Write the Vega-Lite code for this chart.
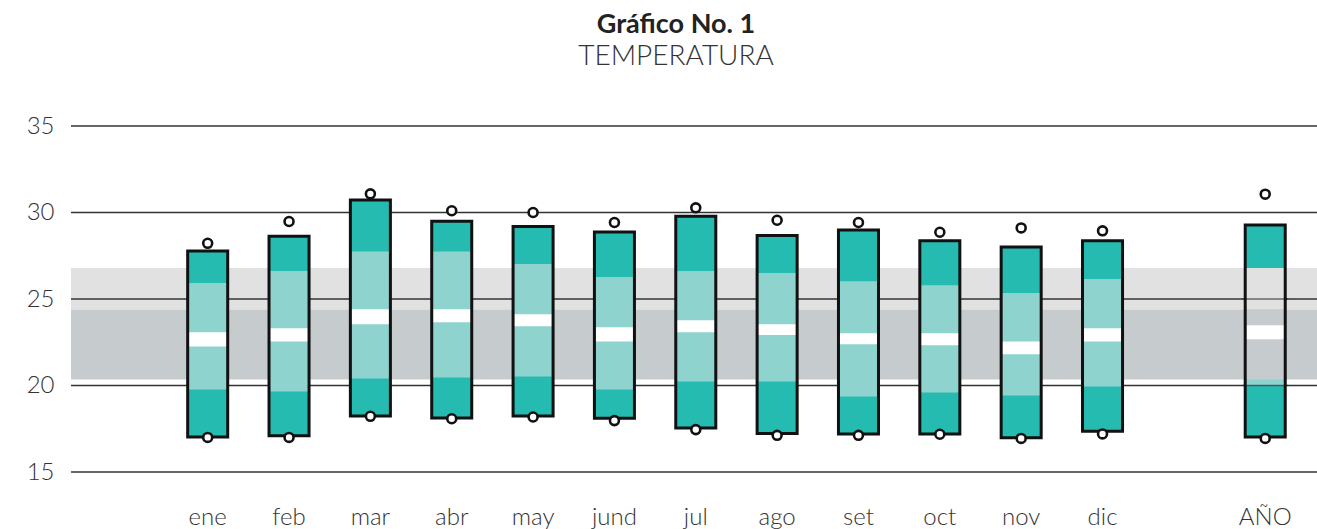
{
  "$schema": "https://vega.github.io/schema/vega-lite/v6.json",
  "width": 1246,
  "height": 346,
  "autosize": "none",
  "padding": {"left": 71, "top": 126, "right": 0, "bottom": 57},
  "background": "white",
  "config": {
    "view": {"stroke": null},
    "font": "Lato",
    "axisY": {"grid": false, "domain": false, "ticks": false, "tickSize": 0, "tickCount": 5, "labelPadding": 17, "labelFontSize": 24, "labelColor": "#333333", "labelFont": "Lato", "labelFontWeight": 300},
    "axisX": {"grid": false, "domain": false, "ticks": false, "tickSize": 0, "labelPadding": 33, "labelFontSize": 24, "labelColor": "#333333", "labelFont": "Lato", "labelFontWeight": 300, "labelAngle": 0}
  },
  "title": {
    "text": "Gráfico No. 1",
    "subtitle": "TEMPERATURA",
    "anchor": "middle",
    "dx": -18,
    "offset": 42,
    "font": "Lato",
    "fontSize": 27,
    "fontWeight": "bold",
    "color": "#222222",
    "subtitleFont": "Lato",
    "subtitleFontSize": 28,
    "subtitleFontWeight": 300,
    "subtitleColor": "#333333",
    "subtitlePadding": 4
  },
  "datasets": {
    "cajas": [
      {"mes": "ene", "min": 17.02, "p25": 19.77, "mlo": 22.26, "mhi": 23.08, "p75": 25.92, "max": 27.78, "amin": 17.0, "amax": 28.22},
      {"mes": "feb", "min": 17.10, "p25": 19.65, "mlo": 22.55, "mhi": 23.31, "p75": 26.62, "max": 28.63, "amin": 17.0, "amax": 29.48},
      {"mes": "mar", "min": 18.24, "p25": 20.41, "mlo": 23.54, "mhi": 24.41, "p75": 27.74, "max": 30.72, "amin": 18.22, "amax": 31.08},
      {"mes": "abr", "min": 18.12, "p25": 20.46, "mlo": 23.66, "mhi": 24.41, "p75": 27.74, "max": 29.50, "amin": 18.08, "amax": 30.10},
      {"mes": "may", "min": 18.24, "p25": 20.52, "mlo": 23.42, "mhi": 24.12, "p75": 27.02, "max": 29.19, "amin": 18.18, "amax": 30.0},
      {"mes": "jund", "min": 18.10, "p25": 19.77, "mlo": 22.55, "mhi": 23.37, "p75": 26.27, "max": 28.88, "amin": 17.97, "amax": 29.42},
      {"mes": "jul", "min": 17.54, "p25": 20.23, "mlo": 23.08, "mhi": 23.77, "p75": 26.62, "max": 29.79, "amin": 17.45, "amax": 30.27},
      {"mes": "ago", "min": 17.23, "p25": 20.23, "mlo": 22.92, "mhi": 23.54, "p75": 26.50, "max": 28.67, "amin": 17.12, "amax": 29.55},
      {"mes": "set", "min": 17.20, "p25": 19.36, "mlo": 22.38, "mhi": 23.02, "p75": 26.03, "max": 28.99, "amin": 17.12, "amax": 29.42},
      {"mes": "oct", "min": 17.20, "p25": 19.59, "mlo": 22.32, "mhi": 23.02, "p75": 25.80, "max": 28.36, "amin": 17.18, "amax": 28.86},
      {"mes": "nov", "min": 16.98, "p25": 19.42, "mlo": 21.80, "mhi": 22.55, "p75": 25.34, "max": 28.01, "amin": 16.94, "amax": 29.11},
      {"mes": "dic", "min": 17.35, "p25": 19.94, "mlo": 22.55, "mhi": 23.31, "p75": 26.15, "max": 28.36, "amin": 17.20, "amax": 28.94},
      {"mes": "AÑO", "min": 17.02, "p25": 20.0, "mlo": 22.67, "mhi": 23.48, "p75": 26.79, "max": 29.28, "amin": 16.94, "amax": 31.06}
    ],
    "franjas": [
      {"zona": "alta", "lo": 24.4, "hi": 26.79},
      {"zona": "media", "lo": 20.35, "hi": 24.4}
    ],
    "grilla": [
      {"g": 15}, {"g": 20}, {"g": 25}, {"g": 30}, {"g": 35}
    ]
  },
  "layer": [
    {
      "data": {"name": "franjas"},
      "mark": {"type": "rect"},
      "encoding": {
        "y": {"field": "lo", "type": "quantitative", "title": null, "scale": {"domain": [15, 35], "nice": false, "zero": false}},
        "y2": {"field": "hi"},
        "color": {"field": "zona", "type": "nominal", "legend": null, "scale": {"domain": ["alta", "media"], "range": ["#e1e1e1", "#c6cbcd"]}}
      }
    },
    {
      "data": {"name": "grilla"},
      "mark": {"type": "rule", "color": "#333333", "strokeWidth": 1.3},
      "encoding": {
        "y": {"field": "g", "type": "quantitative", "title": null}
      }
    },
    {
      "data": {"name": "cajas"},
      "mark": {"type": "bar", "color": "#26bbb0"},
      "encoding": {
        "x": {"field": "mes", "type": "nominal", "title": null, "scale": {"domain": ["ene", "feb", "mar", "abr", "may", "jund", "jul", "ago", "set", "oct", "nov", "dic", " ", "AÑO"], "paddingInner": 0.508, "paddingOuter": 0.9124, "align": 0.786, "round": false}},
        "y": {"field": "min", "type": "quantitative", "title": null},
        "y2": {"field": "max"}
      }
    },
    {
      "data": {"name": "cajas"},
      "mark": {"type": "bar", "color": "#8fd3cf"},
      "encoding": {
        "x": {"field": "mes", "type": "nominal", "title": null},
        "y": {"field": "p25", "type": "quantitative", "title": null},
        "y2": {"field": "p75"}
      }
    },
    {
      "data": {"name": "franjas"},
      "mark": {"type": "bar"},
      "encoding": {
        "x": {"datum": "AÑO", "type": "nominal", "title": null},
        "y": {"field": "lo", "type": "quantitative", "title": null},
        "y2": {"field": "hi"},
        "color": {"field": "zona", "type": "nominal", "legend": null}
      }
    },
    {
      "data": {"name": "grilla"},
      "transform": [{"filter": "datum.g == 20 || datum.g == 25"}],
      "mark": {"type": "tick", "color": "#333333", "thickness": 1.3, "size": 46},
      "encoding": {
        "x": {"datum": "AÑO", "type": "nominal", "title": null},
        "y": {"field": "g", "type": "quantitative", "title": null}
      }
    },
    {
      "data": {"name": "cajas"},
      "mark": {"type": "bar", "color": "#ffffff"},
      "encoding": {
        "x": {"field": "mes", "type": "nominal", "title": null},
        "y": {"field": "mlo", "type": "quantitative", "title": null},
        "y2": {"field": "mhi"}
      }
    },
    {
      "data": {"name": "cajas"},
      "mark": {"type": "bar", "fill": null, "fillOpacity": 0, "stroke": "#111111", "strokeWidth": 3},
      "encoding": {
        "x": {"field": "mes", "type": "nominal", "title": null},
        "y": {"field": "min", "type": "quantitative", "title": null},
        "y2": {"field": "max"}
      }
    },
    {
      "data": {"name": "cajas"},
      "mark": {"type": "point", "shape": "circle", "filled": true, "fill": "#ffffff", "stroke": "#111111", "strokeWidth": 2.6, "size": 80, "opacity": 1},
      "encoding": {
        "x": {"field": "mes", "type": "nominal", "title": null},
        "y": {"field": "amax", "type": "quantitative", "title": null}
      }
    },
    {
      "data": {"name": "cajas"},
      "mark": {"type": "point", "shape": "circle", "filled": true, "fill": "#ffffff", "stroke": "#111111", "strokeWidth": 2.6, "size": 80, "opacity": 1},
      "encoding": {
        "x": {"field": "mes", "type": "nominal", "title": null},
        "y": {"field": "amin", "type": "quantitative", "title": null}
      }
    }
  ]
}
